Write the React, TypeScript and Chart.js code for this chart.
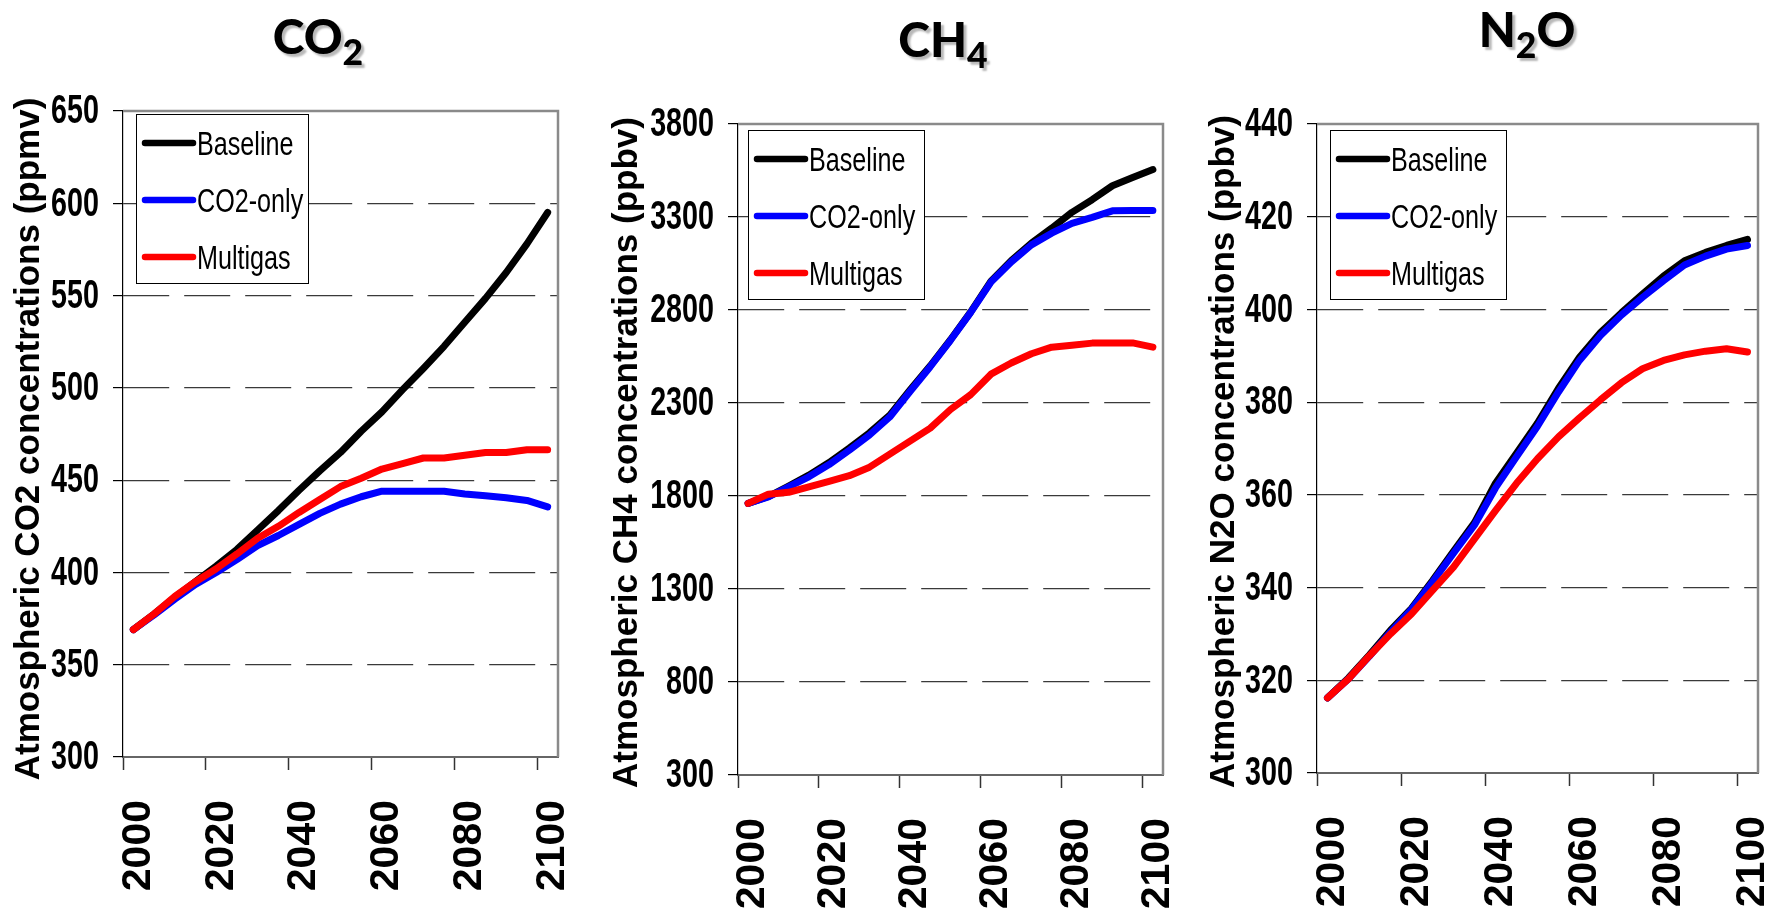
import React, { useEffect, useRef } from 'react';
import { Chart, registerables } from 'chart.js';

Chart.register(...registerables);

// ---------------- DATA ----------------
const years = ['2000', '2005', '2010', '2015', '2020', '2025', '2030', '2035', '2040', '2045', '2050',
  '2055', '2060', '2065', '2070', '2075', '2080', '2085', '2090', '2095', '2100'];

const seriesLabels = ['Baseline', 'CO2-only', 'Multigas'];
const seriesColors = ['#000000', '#0000FF', '#FF0000'];

const co2Baseline = [369, 377.5, 386.5, 395, 403.5, 412.5, 423, 433.5, 444.5, 455, 465, 476.5, 487, 499, 510.5, 522.5, 535.5, 548.5, 562.5, 578, 595];
const co2Only = [369, 377, 385.5, 393.5, 400, 407, 414.5, 420, 426, 432, 437, 441, 444, 444, 444, 444, 442.5, 441.5, 440.5, 439, 435.5];
const co2Multi = [369, 377.5, 387, 395, 402, 410, 418.5, 425, 432.5, 439.5, 446.5, 451, 456, 459, 462, 462, 463.5, 465, 465, 466.5, 466.5];

const ch4Baseline = [1760, 1797, 1853, 1912, 1980, 2058, 2140, 2235, 2370, 2500, 2640, 2790, 2955, 3065, 3160, 3240, 3325, 3393, 3468, 3512, 3555];
const ch4Only = [1760, 1795, 1849, 1903, 1969, 2046, 2128, 2225, 2362, 2495, 2637, 2787, 2950, 3058, 3150, 3213, 3266, 3298, 3333, 3335, 3335];
const ch4Multi = [1760, 1810, 1820, 1849, 1879, 1909, 1955, 2025, 2095, 2165, 2265, 2345, 2455, 2515, 2565, 2600, 2610, 2622, 2623, 2623, 2600];

const n2oBaseline = [316.2, 320.5, 325.5, 330.8, 335.5, 341.5, 347.8, 354, 362.5, 369, 375.5, 383, 389.7, 395, 399.3, 403.3, 407.2, 410.5, 412.3, 413.8, 415.1];
const n2oOnly = [316.2, 320.3, 325.2, 330.4, 335.3, 341.2, 347.4, 353.5, 361.5, 368.2, 374.8, 382.2, 389, 394.4, 398.8, 402.6, 406.2, 409.6, 411.5, 413, 413.8];
const n2oMulti = [316.2, 320.3, 325.3, 330, 334.3, 339.4, 344.4, 350.5, 356.6, 362.5, 367.8, 372.5, 376.6, 380.5, 384.2, 387.2, 389, 390.2, 391, 391.5, 390.8];

const co2TickValues = [300, 350, 400, 450, 500, 550, 600, 650];
const ch4TickValues = [300, 800, 1300, 1800, 2300, 2800, 3300, 3800];
const n2oTickValues = [300, 320, 340, 360, 380, 400, 420, 440];

// ---------------- LAYOUT ----------------
const PAGE_W = 1780;
const PAGE_H = 911;
const FONT_SANS = '"Liberation Sans", Arial, sans-serif';

type Panel = {
  id: string;
  titleMain: string;
  titleSub: string;
  titleTail: string;
  titleX: number;
  titleTop: number;
  canvasLeft: number;
  canvasWidth: number;
  plot: { left: number; top: number; right: number; bottom: number };
  yMin: number;
  yMax: number;
  yTicks: number[];
  series: number[][];
  yTitle: string;
  yTitleX: number;
  yTitleDy: number;
  legend: { dx: number; dy: number; w: number; h: number };
};

const panels: Panel[] = [
  {
    id: 'co2', titleMain: 'CO', titleSub: '2', titleTail: '', titleX: 318, titleTop: 12,
    canvasLeft: 0, canvasWidth: 590,
    plot: { left: 123, top: 111, right: 558, bottom: 757 },
    yMin: 300, yMax: 650, yTicks: co2TickValues,
    series: [co2Baseline, co2Only, co2Multi],
    yTitle: 'Atmospheric CO2 concentrations (ppmv)', yTitleX: 29, yTitleDy: 5,
    legend: { dx: 13, dy: 3, w: 172, h: 169 },
  },
  {
    id: 'ch4', titleMain: 'CH', titleSub: '4', titleTail: '', titleX: 943, titleTop: 15,
    canvasLeft: 590, canvasWidth: 590,
    plot: { left: 738, top: 124, right: 1163, bottom: 775 },
    yMin: 300, yMax: 3800, yTicks: ch4TickValues,
    series: [ch4Baseline, ch4Only, ch4Multi],
    yTitle: 'Atmospheric CH4 concentrations (ppbv)', yTitleX: 627, yTitleDy: 3,
    legend: { dx: 10, dy: 6, w: 176, h: 169 },
  },
  {
    id: 'n2o', titleMain: 'N', titleSub: '2', titleTail: 'O', titleX: 1527, titleTop: 5,
    canvasLeft: 1180, canvasWidth: 600,
    plot: { left: 1317, top: 124, right: 1758, bottom: 773 },
    yMin: 300, yMax: 440, yTicks: n2oTickValues,
    series: [n2oBaseline, n2oOnly, n2oMulti],
    yTitle: 'Atmospheric N2O concentrations (ppbv)', yTitleX: 1224, yTitleDy: 3,
    legend: { dx: 13, dy: 6, w: 176, h: 169 },
  },
];

function drawNarrowText(ctx: any, text: string, x: number, y: number, align: 'left' | 'right', squeeze: number) {
  ctx.save();
  ctx.translate(x, y);
  ctx.scale(squeeze, 1);
  ctx.textAlign = align;
  ctx.fillText(text, 0, 0);
  ctx.restore();
}

function PanelChart({ p }: { p: Panel }) {
  const ref = useRef<HTMLCanvasElement | null>(null);

  useEffect(() => {
    const canvas = ref.current;
    if (!canvas) return;

    const decorPlugin = {
      id: 'decor_' + p.id,
      afterDatasetsDraw(chart: any) {
        const { ctx, chartArea } = chart;
        const lg = p.legend;
        const x0 = Math.round(chartArea.left + lg.dx);
        const y0 = Math.round(chartArea.top + lg.dy);
        ctx.save();
        ctx.fillStyle = '#ffffff';
        ctx.fillRect(x0, y0, lg.w, lg.h);
        ctx.strokeStyle = '#000000';
        ctx.lineWidth = 1;
        ctx.strokeRect(x0 + 0.5, y0 + 0.5, lg.w, lg.h);
        chart.data.datasets.forEach((ds: any, i: number) => {
          const y = y0 + 29 + i * 57;
          ctx.strokeStyle = ds.borderColor;
          ctx.lineWidth = 6.5;
          ctx.lineCap = 'round';
          ctx.beginPath();
          ctx.moveTo(x0 + 9, y);
          ctx.lineTo(x0 + 57, y);
          ctx.stroke();
          ctx.fillStyle = '#000000';
          ctx.font = '34px ' + FONT_SANS;
          ctx.textBaseline = 'alphabetic';
          drawNarrowText(ctx, ds.label, x0 + 61, y + 12, 'left', 0.74);
        });
        ctx.restore();
      },
      afterDraw(chart: any) {
        const { ctx, chartArea } = chart;
        const yScale = chart.scales.y;
        ctx.save();
        // top and right frame
        ctx.strokeStyle = '#8a8a8a';
        ctx.lineWidth = 2.5;
        ctx.beginPath();
        ctx.moveTo(chartArea.left, chartArea.top);
        ctx.lineTo(chartArea.right, chartArea.top);
        ctx.lineTo(chartArea.right, chartArea.bottom);
        ctx.stroke();
        // y tick labels (narrow bold)
        ctx.fillStyle = '#000000';
        ctx.font = 'bold 41px ' + FONT_SANS;
        ctx.textBaseline = 'middle';
        yScale.ticks.forEach((t: any) => {
          const py = yScale.getPixelForValue(t.value);
          drawNarrowText(ctx, String(t.value), chartArea.left - 24, py + 1, 'right', 0.7);
        });
        // y axis title
        const cy = (chartArea.top + chartArea.bottom) / 2 + p.yTitleDy;
        ctx.translate(p.yTitleX - p.canvasLeft, cy);
        ctx.rotate(-Math.PI / 2);
        ctx.fillStyle = '#000000';
        ctx.font = 'bold 35px ' + FONT_SANS;
        ctx.textAlign = 'center';
        ctx.textBaseline = 'middle';
        ctx.fillText(p.yTitle, 0, 0);
        ctx.restore();
      },
    };

    const plot = p.plot;
    const chart = new Chart(canvas, {
      type: 'line',
      data: {
        labels: years,
        datasets: p.series.map((s, i) => ({
          label: seriesLabels[i],
          data: s,
          borderColor: seriesColors[i],
          backgroundColor: seriesColors[i],
          borderWidth: 7,
          borderCapStyle: 'round',
          borderJoinStyle: 'round',
          pointRadius: 0,
          tension: 0,
          fill: false,
          order: 3 - i,
        })),
      },
      options: {
        animation: false,
        responsive: false,
        maintainAspectRatio: false,
        events: [],
        layout: {
          padding: {
            left: 0,
            top: plot.top,
            right: p.canvasLeft + p.canvasWidth - plot.right,
            bottom: 0,
          },
        },
        plugins: {
          legend: { display: false },
          tooltip: { enabled: false },
          title: { display: false },
        },
        scales: {
          x: {
            type: 'category',
            offset: true,
            grid: {
              offset: true,
              drawOnChartArea: false,
              drawTicks: true,
              tickLength: 13,
              tickWidth: 1.5,
              tickColor: (ctx: any) => (ctx.index % 4 === 0 ? '#333333' : 'rgba(0,0,0,0)'),
            },
            border: { display: true, color: '#666666', width: 2 },
            ticks: {
              autoSkip: false,
              maxRotation: 90,
              minRotation: 90,
              padding: 30,
              labelOffset: 5,
              color: '#000000',
              font: { family: FONT_SANS, size: 41, weight: 'bold' },
              callback: function (this: any, value: any, index: number) {
                return index % 4 === 0 ? this.getLabelForValue(value) : '';
              },
            },
            afterFit: (s: any) => {
              s.height = PAGE_H - plot.bottom;
              s.paddingLeft = 0;
              s.paddingRight = 0;
            },
          },
          y: {
            type: 'linear',
            min: p.yMin,
            max: p.yMax,
            afterBuildTicks: (s: any) => {
              s.ticks = p.yTicks.map((v) => ({ value: v }));
            },
            grid: {
              drawOnChartArea: true,
              drawTicks: true,
              tickLength: 10,
              tickWidth: 1.2,
              tickColor: '#000000',
              lineWidth: 1.2,
              color: (ctx: any) => {
                const v = ctx.tick ? ctx.tick.value : null;
                return v === p.yMin || v === p.yMax ? 'rgba(0,0,0,0)' : '#3a3a3a';
              },
            },
            border: { display: true, color: '#000000', width: 1.2, dash: [46, 15] },
            ticks: { display: false },
            afterFit: (s: any) => {
              s.width = plot.left - p.canvasLeft;
              s.paddingTop = 0;
              s.paddingBottom = 0;
            },
          },
        },
      } as any,
      plugins: [decorPlugin],
    });

    return () => {
      chart.destroy();
    };
  }, [p]);

  return (
    <canvas
      ref={ref}
      width={p.canvasWidth}
      height={PAGE_H}
      style={{
        position: 'absolute',
        left: p.canvasLeft,
        top: 0,
        width: p.canvasWidth,
        height: PAGE_H,
        display: 'block',
      }}
    />
  );
}

function Title({ p }: { p: Panel }) {
  return (
    <div
      style={{
        position: 'absolute',
        left: p.titleX,
        top: p.titleTop,
        transform: 'translateX(-50%)',
        fontFamily: 'Lato, "Open Sans", sans-serif',
        fontWeight: 900,
        fontSize: 48,
        lineHeight: 1,
        whiteSpace: 'nowrap',
        color: '#000',
        textShadow: '3px 3px 2px rgba(0,0,0,0.28)',
      }}
    >
      {p.titleMain}
      <span style={{ fontSize: '0.74em', position: 'relative', top: '0.3em' }}>{p.titleSub}</span>
      {p.titleTail}
    </div>
  );
}

export default function App() {
  return (
    <div
      style={{
        position: 'absolute',
        left: 0,
        top: 0,
        width: PAGE_W,
        height: PAGE_H,
        background: '#ffffff',
        overflow: 'hidden',
      }}
    >
      {panels.map((p) => (
        <PanelChart key={p.id} p={p} />
      ))}
      {panels.map((p) => (
        <Title key={'t' + p.id} p={p} />
      ))}
    </div>
  );
}
